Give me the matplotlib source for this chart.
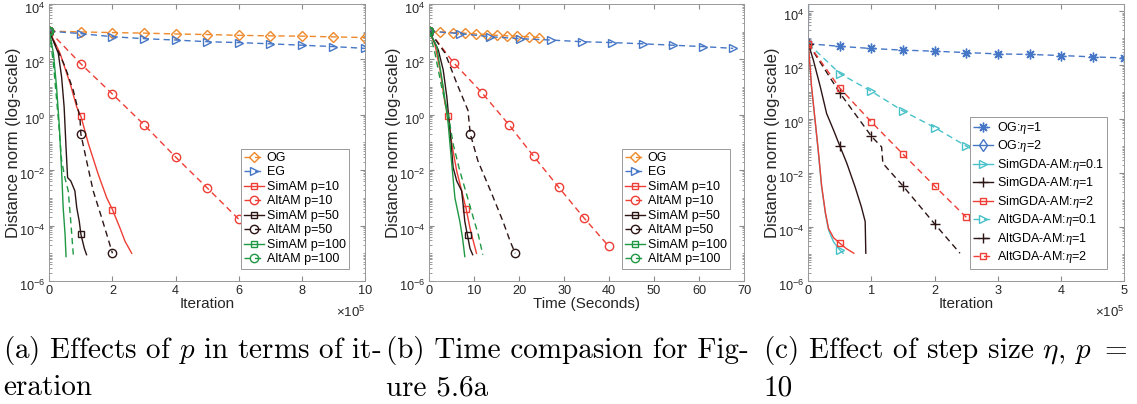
import numpy as np
import matplotlib
matplotlib.use("Agg")
import matplotlib.pyplot as plt
import matplotlib.transforms as mtransforms
from matplotlib.ticker import FixedLocator, LogLocator, NullFormatter

plt.rcParams["font.family"] = ["Liberation Sans", "DejaVu Sans"]
plt.rcParams["mathtext.fontset"] = "custom"
plt.rcParams["mathtext.rm"] = "Liberation Sans"
plt.rcParams["mathtext.it"] = "Liberation Serif:italic"

# ---------------- data ----------------
# panel (a): distance norm vs iteration (x in units of 1e5)
a_og_x = [0, 1, 2, 3, 4, 5, 6, 7, 8, 9, 10]
a_og_y = [1050, 980, 930, 890, 830, 790, 740, 710, 690, 650, 615]
a_eg_x = [0, 1, 2, 3, 4, 5, 6, 7, 8, 9, 10]
a_eg_y = [1050, 850, 660, 560, 500, 435, 405, 365, 325, 290, 250]
a_sim10_x = [0, 0.34, 0.66, 0.87, 1.0, 1.24, 1.55, 1.82, 2.0, 2.24, 2.40, 2.61]
a_sim10_y = [1050, 166, 13.5, 1.9, 0.89, 0.089, 7.1e-3, 1.0e-3, 3.8e-4, 8.1e-5, 2.7e-5, 1.0e-5]
a_alt10_x = [0, 1, 2, 3, 4, 5, 6, 7]
a_alt10_y = [1050, 69, 5.6, 0.44, 0.030, 2.3e-3, 1.7e-4, 1.8e-5]
a_sim50_x = [0, 0.285, 0.39, 0.47, 0.53, 0.58, 0.68, 0.81, 0.87, 0.95, 1.0, 1.11, 1.18]
a_sim50_y = [1050, 166, 23, 1.9, 0.066, 5.4e-3, 4.1e-3, 1.8e-3, 4.4e-4, 1.4e-4, 4.9e-5, 1.5e-5, 8.9e-6]
a_alt50_x = [0, 0.5, 0.76, 0.97, 1.0, 1.18, 1.39, 1.66, 1.82, 2.0]
a_alt50_y = [1050, 54, 7.6, 0.81, 0.20, 0.022, 1.8e-3, 1.9e-4, 4.8e-5, 1.0e-5]
a_sim100_x = [0, 0.13, 0.23, 0.32, 0.39, 0.44, 0.50, 0.53]
a_sim100_y = [1050, 166, 10, 0.35, 9.3e-3, 4.4e-4, 4.7e-5, 7.6e-6]
a_alt100_x = [0, 0.13, 0.29, 0.39, 0.5, 0.6, 0.68, 0.76]
a_alt100_y = [1050, 71, 0.62, 0.022, 5.0e-3, 1.8e-3, 1.4e-4, 8.9e-6]

# panel (b): distance norm vs wall time (seconds)
b_og_t = [0, 2.4, 5.2, 7.9, 10.4, 12.8, 15.0, 17.3, 19.6, 22.2, 24.5]
b_og_y = [1050, 980, 930, 890, 830, 790, 740, 710, 690, 650, 615]
b_eg_t = [0, 6.8, 13.5, 20.2, 27.1, 33.9, 40.7, 47.5, 54.3, 60.9, 67.6]
b_eg_y = [1050, 850, 660, 560, 500, 435, 405, 365, 325, 290, 250]
b_sim10_t = [0, 1.27, 2.4, 3.5, 4.2, 5.0, 6.1, 7.2, 8.2, 9.05, 9.8, 10.5]
b_sim10_y = [1050, 330, 41, 2.5, 0.93, 0.089, 9.3e-3, 1.8e-3, 4.0e-4, 8.1e-5, 2.7e-5, 1.0e-5]
b_alt10_t = [0, 5.4, 11.7, 17.7, 23.2, 28.8, 34.4, 39.9]
b_alt10_y = [1050, 76, 6.3, 0.44, 0.032, 2.4e-3, 1.9e-4, 1.8e-5]
b_sim50_t = [0, 2.0, 3.1, 3.9, 4.6, 5.3, 6.1, 7.2, 7.6, 7.9, 8.5, 9.05, 9.65]
b_sim50_y = [1050, 219, 41, 4.4, 0.27, 0.0126, 4.1e-3, 1.8e-3, 4.4e-4, 1.4e-4, 4.4e-5, 1.5e-5, 8.9e-6]
b_alt50_t = [0, 3.5, 6.1, 8.6, 9.1, 10.8, 13.9, 16.4, 18.0, 19.1]
b_alt50_y = [1050, 170, 13.8, 1.45, 0.21, 0.022, 1.4e-3, 1.4e-4, 2.7e-5, 1.0e-5]
b_sim100_t = [0, 1.65, 3.1, 4.2, 5.0, 5.7, 6.8, 7.4, 7.9]
b_sim100_y = [1050, 290, 10, 0.47, 0.0166, 1.0e-3, 1.4e-4, 3.5e-5, 7.6e-6]
b_alt100_t = [0, 1.27, 2.75, 4.2, 5.3, 6.8, 8.3, 9.8, 10.9, 11.9]
b_alt100_y = [1050, 166, 10, 1.1, 0.089, 9.3e-3, 1.35e-3, 1.9e-4, 4.7e-5, 8.9e-6]

# panel (c): effect of step size (x in units of 1e5)
c_og1_x = [0, 0.5, 1, 1.5, 2, 2.5, 3, 3.5, 4, 4.5, 5]
c_og1_y = [630, 500, 417, 363, 331, 295, 263, 251, 229, 204, 186]
c_og2_x = [0, 0.012]
c_og2_y = [630, 1e9]
c_sim01_x = [0, 0.05, 0.106, 0.16, 0.21, 0.27, 0.32, 0.4, 0.5, 0.55]
c_sim01_y = [630, 15.8, 0.91, 0.054, 3.2e-3, 3.2e-4, 7.8e-5, 2.8e-5, 1.4e-5, 1.07e-5]
c_sim1_x = [0, 0.08, 0.19, 0.29, 0.4, 0.5, 0.61, 0.74, 0.84, 0.9, 0.91]
c_sim1_y = [630, 155, 15.8, 1.62, 0.39, 0.1, 0.023, 3.1e-3, 5.6e-4, 1.6e-4, 1.07e-5]
c_sim2_x = [0, 0.05, 0.106, 0.16, 0.21, 0.27, 0.32, 0.4, 0.5, 0.6, 0.72]
c_sim2_y = [630, 17.8, 1.0, 0.063, 3.5e-3, 3.5e-4, 8.9e-5, 4.0e-5, 2.5e-5, 1.6e-5, 1.07e-5]
c_alt01_x = [0, 0.5, 1, 1.5, 2, 2.5, 3, 3.5]
c_alt01_y = [630, 49, 10.7, 2.0, 0.49, 0.1, 0.022, 5.0e-3]
c_alt1_x = [0, 0.5, 1.0, 1.16, 1.18, 1.5, 2.0, 2.4]
c_alt1_y = [630, 9.3, 0.23, 0.093, 0.023, 3.3e-3, 1.3e-4, 1.07e-5]
c_alt2_x = [0, 0.5, 1, 1.5, 2, 2.5, 3.0]
c_alt2_y = [630, 14, 0.78, 0.05, 3.3e-3, 2.3e-4, 1.6e-5]

ORANGE = "#EE8A2C"
BLUE = "#4676C6"
RED = "#EE3E36"
DARK = "#2E1515"
GREEN = "#1F9843"
CYAN = "#48C2C8"

DASH = (0, (4.5, 3))
LW = 1.0
ASTERISK = (8, 2, 0)


def style_axes(ax, xlim, xticks, ytop):
    ax.set_yscale("log")
    ax.set_xlim(*xlim)
    ax.set_ylim(1e-6, ytop)
    ax.set_xticks(xticks)
    ax.set_xticklabels([f"{t:g}" for t in xticks])
    ax.yaxis.set_major_locator(FixedLocator([1e-6, 1e-4, 1e-2, 1e0, 1e2, 1e4]))
    ax.yaxis.set_minor_locator(LogLocator(base=10, subs=np.arange(1, 10), numticks=100))
    ax.yaxis.set_minor_formatter(NullFormatter())
    ax.tick_params(which="both", direction="in", top=True, right=True,
                   colors="0.55", labelcolor="#262626", labelsize=9.2, pad=3)
    ax.tick_params(which="major", length=3.5)
    ax.tick_params(which="minor", length=1.8)
    # MATLAB puts the "10" of each label a little below its tick
    shift = mtransforms.ScaledTranslation(0, -4 / 100, ax.figure.dpi_scale_trans)
    for lab in ax.get_yticklabels():
        lab.set_transform(lab.get_transform() + shift)
    for s in ax.spines.values():
        s.set_color("0.6")
        s.set_linewidth(0.7)
    ax.set_ylabel("Distance norm (log-scale)", fontsize=12, color="#262626")
    ax.yaxis.set_label_coords(-0.091, 0.5)


def draw(ax, x, y, color, ls, marker, ms, mev, label):
    ax.plot(x, y, color=color, linestyle=ls, linewidth=LW, marker=marker,
            markersize=ms, markerfacecolor="none", markeredgewidth=1.0,
            markevery=mev, label=label)


def add_legend(ax, xanchor):
    leg = ax.legend(loc="lower right", bbox_to_anchor=(xanchor, 0.045), borderaxespad=0,
                    fontsize=9, labelspacing=0.2, handlelength=1.6, handletextpad=0.25,
                    borderpad=0.25, fancybox=False, framealpha=1, edgecolor="0.6",
                    numpoints=1)
    leg.get_frame().set_linewidth(0.7)
    leg.set_zorder(10)


fig = plt.figure(figsize=(11.37, 4.04), dpi=100)
ax_h = 277 / 404
ax_b = 1 - 281 / 404
axA = fig.add_axes([49.3 / 1137, ax_b, 315.7 / 1137, ax_h])
axB = fig.add_axes([429.3 / 1137, ax_b, 314.7 / 1137, ax_h])
axC = fig.add_axes([808.3 / 1137, ax_b, 316.0 / 1137, ax_h])

# ---- (a)
draw(axA, a_og_x, a_og_y, ORANGE, DASH, "D", 5.5, None, "OG")
draw(axA, a_eg_x, a_eg_y, BLUE, DASH, ">", 6, None, "EG")
draw(axA, a_sim10_x, a_sim10_y, RED, "-", "s", 5, [0, 4, 8], "SimAM p=10")
draw(axA, a_alt10_x, a_alt10_y, RED, DASH, "o", 6, None, "AltAM p=10")
draw(axA, a_sim50_x, a_sim50_y, DARK, "-", "s", 5, [0, 10], "SimAM p=50")
draw(axA, a_alt50_x, a_alt50_y, DARK, DASH, "o", 6, [0, 4, 9], "AltAM p=50")
draw(axA, a_sim100_x, a_sim100_y, GREEN, "-", "s", 5, [0], "SimAM p=100")
draw(axA, a_alt100_x, a_alt100_y, GREEN, DASH, "o", 6, [0], "AltAM p=100")
style_axes(axA, (0, 10), [0, 2, 4, 6, 8, 10], 1e4)
axA.set_xlabel("Iteration", fontsize=11, color="#262626", labelpad=0)
add_legend(axA, (349 - 49.3) / 315.7)
axA.text(1.0, -0.085, r"$\times\mathdefault{10^{5}}$", transform=axA.transAxes,
         ha="right", va="top", fontsize=9.5, color="#262626")

# ---- (b)
draw(axB, b_og_t, b_og_y, ORANGE, DASH, "D", 5.5, None, "OG")
draw(axB, b_eg_t, b_eg_y, BLUE, DASH, ">", 6, None, "EG")
draw(axB, b_sim10_t, b_sim10_y, RED, "-", "s", 5, [0, 4, 8], "SimAM p=10")
draw(axB, b_alt10_t, b_alt10_y, RED, DASH, "o", 6, None, "AltAM p=10")
draw(axB, b_sim50_t, b_sim50_y, DARK, "-", "s", 5, [0, 10], "SimAM p=50")
draw(axB, b_alt50_t, b_alt50_y, DARK, DASH, "o", 6, [0, 4, 9], "AltAM p=50")
draw(axB, b_sim100_t, b_sim100_y, GREEN, "-", "s", 5, [0], "SimAM p=100")
draw(axB, b_alt100_t, b_alt100_y, GREEN, DASH, "o", 6, [0], "AltAM p=100")
style_axes(axB, (0, 70), [0, 10, 20, 30, 40, 50, 60, 70], 1e4)
axB.set_xlabel("Time (Seconds)", fontsize=11, color="#262626", labelpad=0)
add_legend(axB, (730 - 429.3) / 314.7)

# ---- (c)
draw(axC, c_og1_x, c_og1_y, BLUE, DASH, ASTERISK, 7, None, r"OG:$\eta$=1")
draw(axC, c_og2_x, c_og2_y, BLUE, "-", "d", 6, [0], r"OG:$\eta$=2")
draw(axC, c_sim01_x, c_sim01_y, CYAN, "-", ">", 6, [0, 8], r"SimGDA-AM:$\eta$=0.1")
draw(axC, c_sim1_x, c_sim1_y, DARK, "-", "+", 7.5, [0, 5], r"SimGDA-AM:$\eta$=1")
draw(axC, c_sim2_x, c_sim2_y, RED, "-", "s", 5, [0, 8], r"SimGDA-AM:$\eta$=2")
draw(axC, c_alt01_x, c_alt01_y, CYAN, DASH, ">", 6, None, r"AltGDA-AM:$\eta$=0.1")
draw(axC, c_alt1_x, c_alt1_y, DARK, DASH, "+", 7.5, [0, 1, 2, 5, 6], r"AltGDA-AM:$\eta$=1")
draw(axC, c_alt2_x, c_alt2_y, RED, DASH, "s", 5, None, r"AltGDA-AM:$\eta$=2")
style_axes(axC, (0, 5), [0, 1, 2, 3, 4, 5], 10 ** 4.27)
axC.set_xlabel("Iteration", fontsize=11, color="#262626", labelpad=0)
add_legend(axC, (1107 - 808.3) / 316.0)
axC.text(1.0, -0.085, r"$\times\mathdefault{10^{5}}$", transform=axC.transAxes,
         ha="right", va="top", fontsize=9.5, color="#262626")

# ---- captions
cap_kw = dict(fontsize=21, family="cmr10", math_fontfamily="cm", va="baseline", ha="left")
y1 = 1 - 358 / 404
y2 = 1 - 395 / 404
fig.text(3 / 1137, y1, r"(a) Effects of $p$ in terms of it-", **cap_kw)
fig.text(3 / 1137, y2, "eration", **cap_kw)
fig.text(386 / 1137, y1, "(b) Time compasion for Fig-", **cap_kw)
fig.text(386 / 1137, y2, "ure 5.6a", **cap_kw)
fig.text(763 / 1137, y1, r"(c) Effect of step size $\eta$, $p$ $=$", **cap_kw)
fig.text(763 / 1137, y2, "10", **cap_kw)

fig.savefig("out.png", dpi=100, facecolor="white")
